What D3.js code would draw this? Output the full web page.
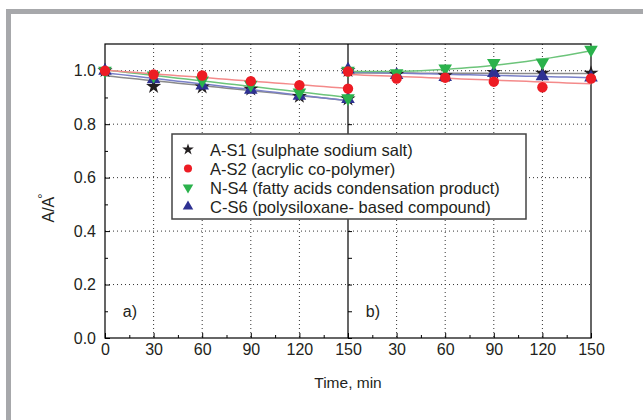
<!DOCTYPE html>
<html>
<head>
<meta charset="utf-8">
<script src="https://cdn.jsdelivr.net/npm/d3@7"></script>
<style>
  body { margin: 0; background: #fff; }
  svg { display: block; font-family: 'Liberation Sans', Arial, sans-serif; }
</style>
</head>
<body>
<div id="chart"></div>
<script>
// data
const times = [0, 30, 60, 90, 120, 150]
const seriesLabels = [
    'A-S1 (sulphate sodium salt)',
    'A-S2 (acrylic co-polymer)',
    'N-S4 (fatty acids condensation product)',
    'C-S6 (polysiloxane- based compound)'
]
const panelA_S1 = [1.0, 0.941, 0.939, 0.931, 0.904, 0.894]
const panelA_S2 = [1.0, 0.986, 0.982, 0.961, 0.946, 0.933]
const panelA_S4 = [1.0, 0.982, 0.964, 0.948, 0.919, 0.897]
const panelA_S6 = [1.0, 0.968, 0.944, 0.929, 0.906, 0.894]
const panelB_S1 = [1.0, 0.986, 0.981, 0.994, 0.991, 0.991]
const panelB_S2 = [0.997, 0.971, 0.974, 0.959, 0.938, 0.971]
const panelB_S4 = [1.0, 0.991, 1.009, 1.029, 1.031, 1.079]
const panelB_S6 = [1.004, 0.984, 0.976, 0.991, 0.979, 0.974]
const xTicks = [0, 30, 60, 90, 120, 150]
const xMinor = [15, 45, 75, 105, 135]
const yTicks = [0, 0.2, 0.4, 0.6, 0.8, 1.0]
const yMinor = [0.1, 0.3, 0.5, 0.7, 0.9]
const panelNames = ['a)', 'b)']

const width = 643
const height = 420
const plotLeft = 105, plotMid = 348, plotRight = 591, plotTop = 44, plotBottom = 338

const markerColors = ['#231f20', '#ed1c24', '#2bb24c', '#2e3192']
const lineColors = ['#8a8a8a', '#f48a8a', '#6cc47a', '#7a80c8']
const symbols = [d3.symbolStar, d3.symbolCircle, d3.symbolTriangle, d3.symbolTriangle]
const symbolSizes = [70, 85, 80, 80]
const rotations = [0, 0, 180, 0]

const svg = d3.select('#chart').append('svg')
    .attr('width', width)
    .attr('height', height)

// grey frame
svg.append('rect').attr('x', 6).attr('y', 9).attr('width', width - 6).attr('height', 5).attr('fill', '#a7a8ab')
svg.append('rect').attr('x', 6).attr('y', 9).attr('width', 5).attr('height', height - 9).attr('fill', '#a7a8ab')

const x = [
    d3.scaleLinear().domain([0, 150]).range([plotLeft, plotMid]),
    d3.scaleLinear().domain([0, 150]).range([plotMid, plotRight])
]
const y = d3.scaleLinear().domain([0, 1.1]).range([plotBottom, plotTop])

// dotted grid
const grid = svg.append('g')
    .attr('stroke', '#333')
    .attr('stroke-width', 1)
    .attr('stroke-dasharray', '1,3')
grid.selectAll('line.h')
    .data(yTicks.filter(d => d > 0))
    .join('line')
    .attr('class', 'h')
    .attr('x1', plotLeft).attr('x2', plotRight)
    .attr('y1', d => y(d)).attr('y2', d => y(d))
x.forEach(sx => {
    grid.append('g').selectAll('line')
        .data([30, 60, 90, 120])
        .join('line')
        .attr('x1', d => sx(d)).attr('x2', d => sx(d))
        .attr('y1', plotTop).attr('y2', plotBottom)
})

// axes
x.forEach((sx, i) => {
    svg.append('g')
        .attr('transform', `translate(0,${plotBottom})`)
        .call(d3.axisBottom(sx).tickValues(xTicks).tickSize(-5).tickPadding(6)
            .tickFormat(d => (i === 1 && d === 0) ? '' : d))
    svg.append('g')
        .attr('transform', `translate(0,${plotBottom})`)
        .call(d3.axisBottom(sx).tickValues(xMinor).tickSize(-3).tickFormat(''))
})
svg.append('g')
    .attr('transform', `translate(${plotLeft},0)`)
    .call(d3.axisLeft(y).tickValues(yTicks).tickSize(-5).tickPadding(9).tickFormat(d3.format('.1f')))
svg.append('g')
    .attr('transform', `translate(${plotLeft},0)`)
    .call(d3.axisLeft(y).tickValues(yMinor).tickSize(-3).tickFormat(''))
svg.append('g')
    .attr('transform', `translate(${plotMid},0)`)
    .call(d3.axisLeft(y).tickValues(yTicks.concat(yMinor)).tickSize(-4).tickFormat(''))

svg.selectAll('.domain').remove()
svg.selectAll('.tick line').attr('stroke', '#000')
svg.selectAll('.tick text')
    .attr('font-size', 16)
    .attr('fill', '#231f20')
    .attr('font-family', "'Liberation Sans', Arial, sans-serif")

// frame lines of the plot
const frame = svg.append('g').attr('stroke', '#000').attr('stroke-width', 1.2).attr('fill', 'none')
frame.append('rect').attr('x', plotLeft).attr('y', plotTop).attr('width', plotRight - plotLeft).attr('height', plotBottom - plotTop)
frame.append('line').attr('x1', plotMid).attr('x2', plotMid).attr('y1', plotTop).attr('y2', plotBottom)

// fits
const linearFit = (xs, ys) => {
    const mx = d3.mean(xs), my = d3.mean(ys)
    const b = d3.sum(xs, (v, i) => (v - mx) * (ys[i] - my)) / d3.sum(xs, v => (v - mx) * (v - mx))
    return t => my + b * (t - mx)
}
const quadFit = (xs, ys) => {
    const s = k => d3.sum(xs, v => Math.pow(v, k))
    const sy = k => d3.sum(xs, (v, i) => Math.pow(v, k) * ys[i])
    const m = [[s(0), s(1), s(2), sy(0)], [s(1), s(2), s(3), sy(1)], [s(2), s(3), s(4), sy(2)]]
    for (let c = 0; c < 3; c++) {
        for (let r = c + 1; r < 3; r++) {
            const f = m[r][c] / m[c][c]
            for (let k = c; k < 4; k++) m[r][k] -= f * m[c][k]
        }
    }
    const p = [0, 0, 0]
    for (let r = 2; r >= 0; r--) {
        let v = m[r][3]
        for (let k = r + 1; k < 3; k++) v -= m[r][k] * p[k]
        p[r] = v / m[r][r]
    }
    return t => p[0] + p[1] * t + p[2] * t * t
}

const panels = [
    { series: [panelA_S1, panelA_S2, panelA_S4, panelA_S6], fits: ['lin', 'lin', 'lin', 'lin'] },
    { series: [panelB_S1, panelB_S2, panelB_S4, panelB_S6], fits: ['lin', 'lin', 'quad', 'lin'] }
]
const drawOrder = [0, 3, 2, 1]
const fineT = d3.range(0, 151, 5)

panels.forEach((panel, p) => {
    const sx = x[p]
    const g = svg.append('g')
    drawOrder.forEach(s => {
        const vals = panel.series[s]
        const f = panel.fits[s] === 'lin' ? linearFit(times, vals) : quadFit(times, vals)
        g.append('path')
            .datum(fineT)
            .attr('fill', 'none')
            .attr('stroke', lineColors[s])
            .attr('stroke-width', 1.5)
            .attr('d', d3.line().x(t => sx(t)).y(t => y(f(t))))
    })
    drawOrder.forEach(s => {
        g.append('g').selectAll('path')
            .data(panel.series[s])
            .join('path')
            .attr('d', d3.symbol().type(symbols[s]).size(symbolSizes[s]))
            .attr('fill', markerColors[s])
            .attr('transform', (d, i) => `translate(${sx(times[i])},${y(d)}) rotate(${rotations[s]})`)
    })
    svg.append('text')
        .text(panelNames[p])
        .attr('x', sx(11))
        .attr('y', y(0.1) + 6)
        .attr('font-size', 16)
        .attr('fill', '#231f20')
})

// legend
const legend = svg.append('g')
legend.append('rect')
    .attr('x', 172).attr('y', 134)
    .attr('width', 354).attr('height', 85)
    .attr('fill', '#fff')
    .attr('stroke', '#444')
    .attr('stroke-width', 1.5)
seriesLabels.forEach((label, s) => {
    const ly = 149.5 + s * 19
    legend.append('path')
        .attr('d', d3.symbol().type(symbols[s]).size(symbolSizes[s] * 0.6))
        .attr('fill', markerColors[s])
        .attr('transform', `translate(188,${ly}) rotate(${rotations[s]})`)
    legend.append('text')
        .text(label)
        .attr('x', 210)
        .attr('y', ly + 6)
        .attr('font-size', 16.5)
        .attr('fill', '#231f20')
})

// axis titles
svg.append('text')
    .text('Time, min')
    .attr('x', plotMid)
    .attr('y', 388)
    .attr('text-anchor', 'middle')
    .attr('font-size', 15.5)
    .attr('fill', '#231f20')
const yTitle = svg.append('text')
    .attr('transform', 'translate(54,208) rotate(-90)')
    .attr('text-anchor', 'middle')
    .attr('font-size', 16)
    .attr('fill', '#231f20')
yTitle.append('tspan').text('A/A')
yTitle.append('tspan').text('°').attr('dx', -2).attr('dy', -7).attr('font-size', 13)
</script>
</body>
</html>
